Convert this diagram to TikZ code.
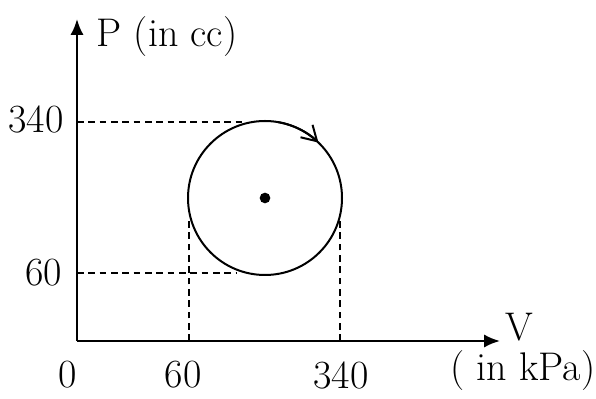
\documentclass[tikz,border=0pt]{standalone}
\usepackage{amsmath,amsfonts,amssymb}
\usepackage{tikz}
\usetikzlibrary{arrows.meta,positioning}

\begin{document}
\begin{tikzpicture}[
  x=0.75pt, y=0.75pt,
  every node/.style={font=\fontsize{30}{34}\selectfont, inner sep=0pt},
  axis/.style={line width=1.8pt, -{Latex[length=12pt,width=10pt]}},
  guide/.style={line width=1.4pt, dash pattern=on 5pt off 3.5pt},
  loop/.style={circle, draw, line width=1.5pt, minimum size=115.5pt, inner sep=0pt, outer sep=0pt}
]
\useasboundingbox (0,0) rectangle (596,399);
% axes
\coordinate (O) at (77,58);
\coordinate (ytop) at (77,380);
\coordinate (xend) at (500,58);
\draw[axis] (O) -- (ytop);
\draw[axis] (O) -- (xend);
\node (ylab) at (167,362) {P (in cc)};
\node (xlab) at (519,72) {V};
\node (xunit) at (523,28) {( in kPa)};
% cycle
\node[loop] (c) at (265,201) {};
\node[circle, fill, minimum size=8pt, inner sep=0pt] (dot) at (c) {};
\draw[line width=1.5pt, -{Straight Barb[length=11pt,width=13pt]}] (c.80) arc[start angle=80, end angle=46, radius=57.75pt];
% guide lines
\coordinate (p340) at (77,277);
\coordinate (p60) at (77,126);
\coordinate (v60) at (189,58);
\coordinate (v340) at (340,58);
\draw[guide] (p340) -- (p340 -| c.107);
\draw[guide] (p60) -- (p60 -| c.-111);
\draw[guide] (v60) -- (v60 |- c.195);
\draw[guide] (v340) -- (v340 |- c.-14);
% ticks
\node (t340) at (36,280) {340};
\node (t60) at (44,126) {60};
\node (t0) at (68,24) {0};
\node (h60) at (183,24) {60};
\node (h340) at (341,24) {340};
\end{tikzpicture}
\end{document}
